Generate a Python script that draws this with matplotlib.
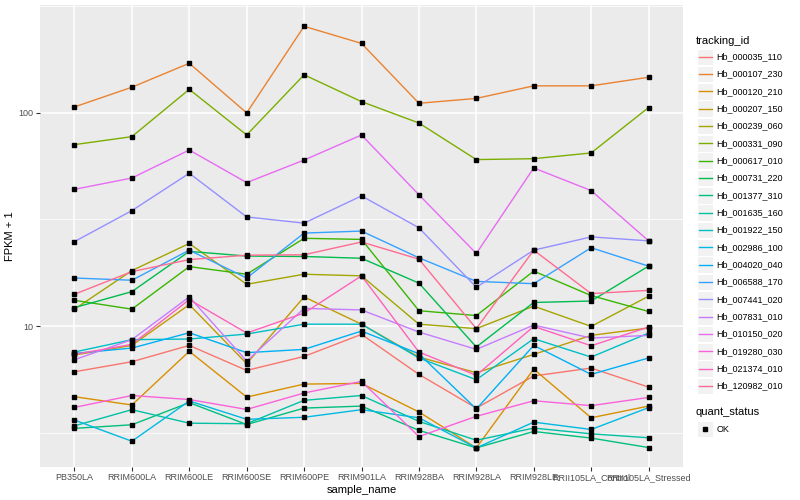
import matplotlib
matplotlib.use("Agg")
import matplotlib.pyplot as plt
from matplotlib.patches import Rectangle

plt.rcParams['font.family'] = ['Liberation Sans', 'DejaVu Sans']

# --- data (FPKM + 1) ---
samples = ["PB350LA", "RRIM600LA", "RRIM600LE", "RRIM600SE", "RRIM600PE", "RRIM901LA",
           "RRIM928BA", "RRIM928LA", "RRIM928LE", "RRII105LA_Control", "RRII105LA_Stressed"]

ids = ["Hb_000035_110", "Hb_000107_230", "Hb_000120_210", "Hb_000207_150", "Hb_000239_060",
       "Hb_000331_090", "Hb_000617_010", "Hb_000731_220", "Hb_001377_310", "Hb_001635_160",
       "Hb_001922_150", "Hb_002986_100", "Hb_004020_040", "Hb_006588_170", "Hb_007441_020",
       "Hb_007831_010", "Hb_010150_020", "Hb_019280_030", "Hb_021374_010", "Hb_120982_010"]

hb_000035_110 = [6.10, 6.80, 8.11, 6.19, 7.20, 9.14, 5.93, 4.12, 5.83, 6.35, 5.17]
hb_000107_230 = [106.7, 132, 171, 100, 255, 212, 111, 117, 134, 134, 147]
hb_000120_210 = [4.66, 4.26, 7.61, 4.64, 5.34, 5.38, 3.95, 2.68, 6.28, 3.71, 4.21]
hb_000207_150 = [7.31, 8.11, 12.6, 6.66, 13.7, 10.2, 7.15, 6.04, 7.36, 9.04, 9.79]
hb_000239_060 = [12.0, 18.2, 24.4, 15.7, 17.5, 17.2, 10.2, 9.72, 12.4, 9.96, 13.8]
hb_000331_090 = [71.0, 77.4, 129, 78.8, 151, 113, 89.7, 60.4, 61.0, 64.9, 106]
hb_000617_010 = [13.2, 12.0, 19.0, 17.5, 25.8, 25.5, 11.8, 11.2, 18.1, 13.9, 11.7]
hb_000731_220 = [12.2, 14.5, 22.4, 21.3, 21.2, 20.8, 15.9, 7.97, 12.9, 13.1, 19.1]
hb_001377_310 = [3.31, 3.44, 4.37, 3.45, 4.12, 4.21, 3.24, 2.68, 3.20, 2.98, 2.69]
hb_001635_160 = [3.40, 4.05, 3.50, 3.48, 4.48, 4.72, 3.57, 2.91, 3.32, 3.12, 2.99]
hb_001922_150 = [7.55, 8.63, 8.69, 9.17, 10.2, 10.2, 7.08, 5.60, 8.72, 7.15, 9.27]
hb_002986_100 = [3.62, 2.88, 4.45, 3.65, 3.73, 4.05, 3.71, 2.68, 3.54, 3.27, 4.14]
hb_004020_040 = [7.44, 7.88, 9.30, 7.50, 7.77, 9.47, 7.41, 4.08, 8.11, 5.93, 7.08]
hb_006588_170 = [16.8, 16.4, 22.7, 16.8, 27.3, 27.9, 20.9, 16.2, 15.8, 23.3, 19.1]
hb_007441_020 = [24.9, 34.8, 52.1, 32.5, 30.4, 40.8, 28.9, 15.2, 22.7, 26.2, 25.1]
hb_007831_010 = [6.95, 8.63, 13.7, 6.85, 12.1, 11.9, 9.37, 7.77, 10.1, 8.78, 9.04]
hb_010150_020 = [43.8, 49.5, 67.0, 47.1, 60.1, 78.8, 41.3, 21.9, 55.2, 43.2, 25.1]
hb_019280_030 = [4.15, 4.72, 4.52, 4.06, 4.85, 5.50, 3.03, 3.77, 4.46, 4.23, 4.62]
hb_021374_010 = [7.36, 8.20, 13.3, 9.27, 11.5, 17.2, 7.55, 5.87, 9.96, 8.08, 9.89]
hb_120982_010 = [14.1, 18.0, 20.5, 21.5, 21.6, 24.8, 20.6, 9.72, 22.7, 14.2, 14.7]

series = [hb_000035_110, hb_000107_230, hb_000120_210, hb_000207_150, hb_000239_060,
          hb_000331_090, hb_000617_010, hb_000731_220, hb_001377_310, hb_001635_160,
          hb_001922_150, hb_002986_100, hb_004020_040, hb_006588_170, hb_007441_020,
          hb_007831_010, hb_010150_020, hb_019280_030, hb_021374_010, hb_120982_010]

# ggplot default hue palette, 20 levels
colors = ["#F8766D", "#EA8331", "#D89000", "#C09B00", "#A3A500", "#7CAE00", "#39B600",
          "#00BB4E", "#00BF7D", "#00C1A3", "#00BFC4", "#00BAE0", "#00B0F6", "#35A2FF",
          "#9590FF", "#C77CFF", "#E76BF3", "#FA62DB", "#FF62BC", "#FF6C91"]

fig = plt.figure(figsize=(8, 5), dpi=100)
ax = fig.add_axes([0.05, 0.066, 0.80375, 0.924])
ax.set_facecolor("#EBEBEB")
for s in ax.spines.values():
    s.set_visible(False)

xs = list(range(len(samples)))
for vals, col in zip(series, colors):
    ax.plot(xs, vals, color=col, lw=1.0, zorder=2)
for vals in series:
    ax.plot(xs, vals, ls="none", marker="s", ms=2.6, color="black", zorder=3)

ax.set_yscale("log")
ax.set_ylim(2.18, 321)
ax.set_xlim(-0.6, len(samples) - 0.4)
ax.set_yticks([10, 100])
ax.set_yticklabels(["10", "100"])
ax.set_yticks([10 ** 0.5, 10 ** 1.5, 10 ** 2.5], minor=True)
ax.set_yticklabels([], minor=True)
ax.set_xticks(xs)
ax.set_xticklabels(samples)
ax.set_axisbelow(True)
ax.grid(which="major", color="white", lw=1.1)
ax.grid(which="minor", axis="y", color="white", lw=0.55)
ax.tick_params(which="major", length=3, width=0.8, color="#333333",
               labelsize=6.5, labelcolor="#4D4D4D", pad=1.5)
ax.tick_params(which="minor", length=0)
ax.set_xlabel("sample_name", fontsize=8, labelpad=2)
ax.set_ylabel("FPKM + 1", fontsize=8, labelpad=3)

# --- legend drawn in pixel coordinates ---
lax = fig.add_axes([0, 0, 1, 1], zorder=5)
lax.set_xlim(0, 800)
lax.set_ylim(500, 0)
lax.axis("off")
lax.patch.set_alpha(0)

lax.text(696, 40.7, "tracking_id", fontsize=8, va="center", ha="left")
y0, dy = 56.7, 17.33
for i, (name, col) in enumerate(zip(ids, colors)):
    yc = y0 + i * dy
    lax.add_patch(Rectangle((697, yc - 8.2), 16.4, 16.4, fc="#F2F2F2", ec="white", lw=0.8))
    lax.plot([698.5, 711.5], [yc, yc], color=col, lw=1.0)
    lax.text(716.5, yc, name, fontsize=6.5, va="center", ha="left")

lax.text(696, 412, "quant_status", fontsize=8, va="center", ha="left")
lax.add_patch(Rectangle((697, 429 - 8.2), 16.4, 16.4, fc="#F2F2F2", ec="white", lw=0.8))
lax.plot([705.2], [429], marker="s", ms=2.6, color="black")
lax.text(716.5, 429, "OK", fontsize=6.5, va="center", ha="left")

fig.savefig("out.png", dpi=100)
